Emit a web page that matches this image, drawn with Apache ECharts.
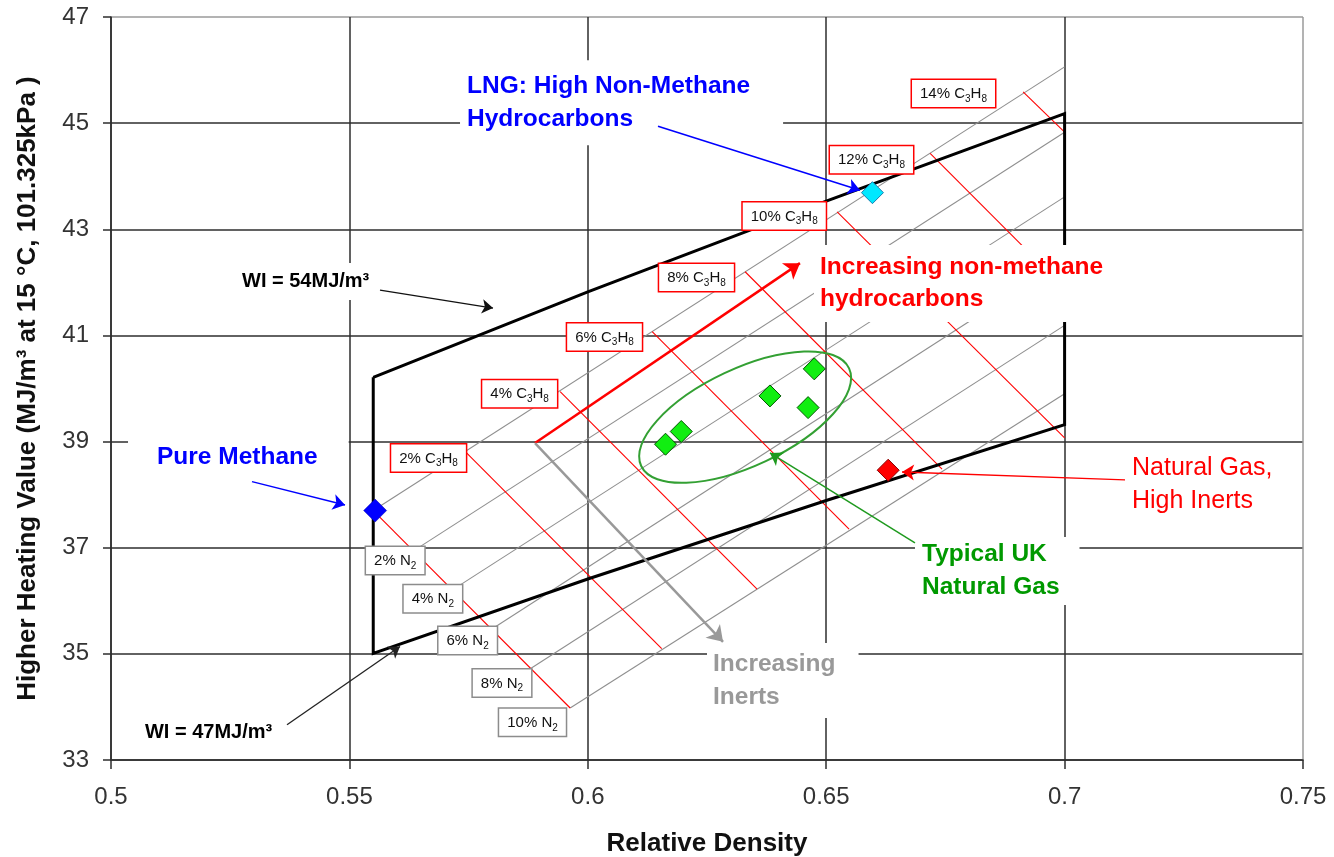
<!DOCTYPE html>
<html><head><meta charset="utf-8">
<script src="https://cdn.jsdelivr.net/npm/echarts@6/dist/echarts.min.js"></script>
<style>html,body{margin:0;padding:0;background:#fff}#c{width:1334px;height:857px}</style>
</head><body><div id="c"></div>
<script>
// ---- data ----
const xMin = 0.5, xMax = 0.75, xStep = 0.05;
const yMin = 33, yMax = 47, yStep = 2;

// Wobbe index boundary curves
const wiUpper = [[0.555,40.21],[0.6,41.82],[0.65,43.53],[0.7,45.18]];
const wiLower = [[0.555,35.01],[0.6,36.41],[0.65,37.89],[0.7,39.32]];

// constant-N2 lines (0,2,..,10 % N2), increasing propane
const grayStart = [[0.555,37.70],[0.5636,36.95],[0.5717,36.21],[0.5799,35.47],[0.5881,34.73],[0.5963,33.98]];
const grayEnd   = [[0.7,46.06],[0.7,44.83],[0.7,43.61],[0.7,42.42],[0.7,41.19],[0.7,39.90]];

// constant-C3H8 lines (0,2,..,14 % C3H8), increasing N2
const redStart = [[0.555,37.70],[0.5742,38.82],[0.5942,39.94],[0.6135,41.07],[0.6330,42.20],[0.6523,43.33],[0.6718,44.43],[0.6913,45.59]];
const redEnd   = [[0.5963,33.98],[0.6155,35.10],[0.6355,36.22],[0.6548,37.35],[0.6743,38.48],[0.7,39.07],[0.7,41.89],[0.7,44.83]];

// gas points
const methane    = [[0.5554,37.70]];
const lng        = [[0.6597,43.69]];
const highInerts = [[0.6630,38.46]];
const ukGas      = [[0.6163,38.95],[0.6196,39.19],[0.6382,39.86],[0.6475,40.37],[0.6462,39.64]];

// ellipse: centre, end of major semi-axis, end of minor semi-axis
const ukEllipse = [0.6330,39.46, 0.6548,40.38, 0.6373,38.63];

// boxed labels
const c3Pct = [2,4,6,8,10,12,14];
const c3LabelPos = [[0.5666,38.69],[0.5857,39.90],[0.6035,40.97],[0.6228,42.09],[0.6412,43.25],[0.6595,44.31],[0.6767,45.56]];
const n2Pct = [2,4,6,8,10];
const n2LabelPos = [[0.5596,36.76],[0.5675,36.04],[0.5748,35.25],[0.5820,34.45],[0.5884,33.71]];

// annotation arrows
const arrowFrom = [[0.61472,44.942],[0.52957,38.245],[0.55642,41.854],[0.53691,33.664],[0.66862,37.09],[0.71267,38.277],[0.58893,38.972],[0.58893,38.972]];
const arrowTo   = [[0.65709,43.737],[0.54908,37.806],[0.58012,41.515],[0.56061,35.138],[0.63821,38.785],[0.6659,38.427],[0.6445,42.362],[0.62836,35.226]];

// annotation texts
const annoText = ['LNG: High Non-Methane\nHydrocarbons','Pure Methane','Increasing non-methane\nhydrocarbons','Natural Gas,\nHigh Inerts','Typical UK\nNatural Gas','Increasing\nInerts','WI = 54MJ/m³','WI = 47MJ/m³'];
const annoPos  = [[0.5732,45.384],[0.50357,38.71],[0.64744,41.977],[0.71288,38.192],[0.66862,36.563],[0.625,34.50],[0.52664,42.014],[0.50629,33.513]];

// ---- styles ----
const FONT = 'Liberation Sans, Arial, sans-serif';
const arrowColor = ['#0000ff','#0000ff','#111','#222','#1f9a1f','#ff0000','#ff0000','#999999'];
const arrowWidth = [1.5,1.5,1.3,1.3,1.5,1.3,2.5,2.5];
const arrowSize  = [12,12,11,11,12,12,15,15];
const annoStyle = [
  {color:'#0000ff', fontWeight:'bold', fontSize:24.5, lineHeight:33, padding:[11.5,33,7.5,7]},
  {color:'#0000ff', fontWeight:'bold', fontSize:24.5, lineHeight:30, padding:[12,31,12,29]},
  {color:'#ff0000', fontWeight:'bold', fontSize:24.5, lineHeight:32, padding:[4,7,9,6]},
  {color:'#ff0000', fontWeight:'normal', fontSize:25, lineHeight:33, padding:[4,6,4,6]},
  {color:'#009900', fontWeight:'bold', fontSize:24.5, lineHeight:33, padding:[1.5,20,0.5,7]},
  {color:'#999999', fontWeight:'bold', fontSize:24.5, lineHeight:33, padding:[0.5,23,8.5,6]},
  {color:'#000000', fontWeight:'bold', fontSize:20, lineHeight:24, padding:[6.5,6,6.5,4]},
  {color:'#000000', fontWeight:'bold', fontSize:20, lineHeight:24, padding:[4,6,4,4]}
];

const boundary = [...wiUpper, ...wiLower.slice().reverse(), wiUpper[0]];

function boxLabel(text, border){
  return {
    show:true, position:'inside', formatter:text, opacity:1,
    backgroundColor:'#fff', borderColor:border, borderWidth:1.5,
    padding:[4,8,3,8],
    rich:{
      t:{fontSize:15, lineHeight:20, color:'#111', fontFamily:FONT},
      s:{fontSize:10, lineHeight:9, verticalAlign:'bottom', color:'#111', fontFamily:FONT}
    }
  };
}

function segment(a, b, color, width, z){
  return {type:'line', data:[a, b], symbol:'none', silent:true, z:z,
    lineStyle:{color:color, width:width, opacity:1}};
}

const series = [];
grayStart.forEach((s,i)=>series.push(segment(s, grayEnd[i], '#8f8f8f', 1.1, 2)));
redStart.forEach((s,i)=>series.push(segment(s, redEnd[i], '#ff0000', 1.1, 2)));
series.push({type:'line', data:boundary, symbol:'none', silent:true, z:3,
  lineStyle:{color:'#000', width:3, join:'miter'}});
arrowFrom.forEach((f,i)=>{
  series.push({type:'lines', coordinateSystem:'cartesian2d', silent:true, z:12,
    symbol:['none','arrow'], symbolSize:arrowSize[i],
    data:[{coords:[f, arrowTo[i]]}],
    lineStyle:{color:arrowColor[i], width:arrowWidth[i], opacity:1}});
});
series.push({type:'custom', coordinateSystem:'cartesian2d', silent:true, z:4, clip:false,
  data:[ukEllipse],
  renderItem:function(params, api){
    const c = api.coord([api.value(0), api.value(1)]);
    const a = api.coord([api.value(2), api.value(3)]);
    const b = api.coord([api.value(4), api.value(5)]);
    const rx = Math.hypot(a[0]-c[0], a[1]-c[1]);
    const ry = Math.hypot(b[0]-c[0], b[1]-c[1]);
    const rot = Math.atan2(-(a[1]-c[1]), a[0]-c[0]);
    return {type:'ellipse', x:c[0], y:c[1], rotation:rot,
      shape:{cx:0, cy:0, rx:rx, ry:ry},
      style:{fill:'none', stroke:'#33a033', lineWidth:2}};
  }});
series.push({type:'scatter', silent:true, z:6, symbol:'diamond', symbolSize:23, data:methane,
  itemStyle:{color:'#0000ff', borderColor:'#0000aa', borderWidth:0.5, opacity:1}});
series.push({type:'scatter', silent:true, z:6, symbol:'diamond', symbolSize:22, data:lng,
  itemStyle:{color:'#00e8ff', borderColor:'#1a7fb0', borderWidth:1, opacity:1}});
series.push({type:'scatter', silent:true, z:6, symbol:'diamond', symbolSize:22, data:highInerts,
  itemStyle:{color:'#ff0000', borderColor:'#880000', borderWidth:1, opacity:1}});
series.push({type:'scatter', silent:true, z:6, symbol:'diamond', symbolSize:22, data:ukGas,
  itemStyle:{color:'#11ee11', borderColor:'#005500', borderWidth:1, opacity:1}});
series.push({type:'scatter', silent:true, z:10, symbol:'circle', symbolSize:1,
  itemStyle:{color:'rgba(0,0,0,0)', opacity:1},
  data: c3LabelPos.map((p,i)=>({value:p, label:boxLabel('{t|'+c3Pct[i]+'% C}{s|3}{t|H}{s|8}', '#ff0000')}))});
series.push({type:'scatter', silent:true, z:10, symbol:'circle', symbolSize:1,
  itemStyle:{color:'rgba(0,0,0,0)', opacity:1},
  data: n2LabelPos.map((p,i)=>({value:p, label:boxLabel('{t|'+n2Pct[i]+'% N}{s|2}', '#8c8c8c')}))});
series.push({type:'scatter', silent:true, z:10, symbol:'circle', symbolSize:1,
  itemStyle:{color:'rgba(0,0,0,0)', opacity:1},
  data: annoPos.map((p,i)=>({value:p, label:Object.assign({
    show:true, position:'inside', align:'left', verticalAlign:'middle', opacity:1,
    formatter:annoText[i], backgroundColor:'#fff', fontFamily:FONT}, annoStyle[i])}))});

const ySplitColors = []; for(let v=yMin; v<=yMax+1e-9; v+=yStep) ySplitColors.push(v>=yMax-1e-9?'#9a9a9a':'#2e2e2e');
const xSplitColors = []; for(let v=xMin; v<=xMax+1e-9; v+=xStep) xSplitColors.push(v>=xMax-1e-9?'#9a9a9a':'#2e2e2e');

const chart = echarts.init(document.getElementById('c'), null, {renderer:'canvas'});
chart.setOption({
  animation:false,
  backgroundColor:'#fff',
  textStyle:{fontFamily:FONT},
  grid:{left:111, right:31, top:17, bottom:97, containLabel:false, outerBoundsMode:'none'},
  xAxis:{type:'value', min:xMin, max:xMax, interval:xStep,
    name:'Relative Density', nameLocation:'middle', nameGap:71,
    nameTextStyle:{fontSize:26, fontWeight:'bold', color:'#111', fontFamily:FONT},
    axisLine:{show:true, onZero:false, lineStyle:{color:'#2e2e2e', width:1.5}},
    axisTick:{show:true, inside:false, length:9, lineStyle:{color:'#2e2e2e', width:1.5}},
    axisLabel:{fontSize:24, color:'#333', margin:25, fontFamily:FONT},
    splitLine:{show:true, lineStyle:{color:xSplitColors, width:1.5}}},
  yAxis:{type:'value', min:yMin, max:yMax, interval:yStep,
    name:'Higher Heating Value (MJ/m³ at 15 °C, 101.325kPa )', nameLocation:'middle', nameGap:70,
    nameTextStyle:{fontSize:26, fontWeight:'bold', color:'#111', fontFamily:FONT},
    axisLine:{show:true, onZero:false, lineStyle:{color:'#2e2e2e', width:1.5}},
    axisTick:{show:true, inside:false, length:8, lineStyle:{color:'#2e2e2e', width:1.5}},
    axisLabel:{fontSize:24, color:'#333', margin:22, fontFamily:FONT},
    splitLine:{show:true, lineStyle:{color:ySplitColors, width:1.5}}},
  series:series
});
</script></body></html>
